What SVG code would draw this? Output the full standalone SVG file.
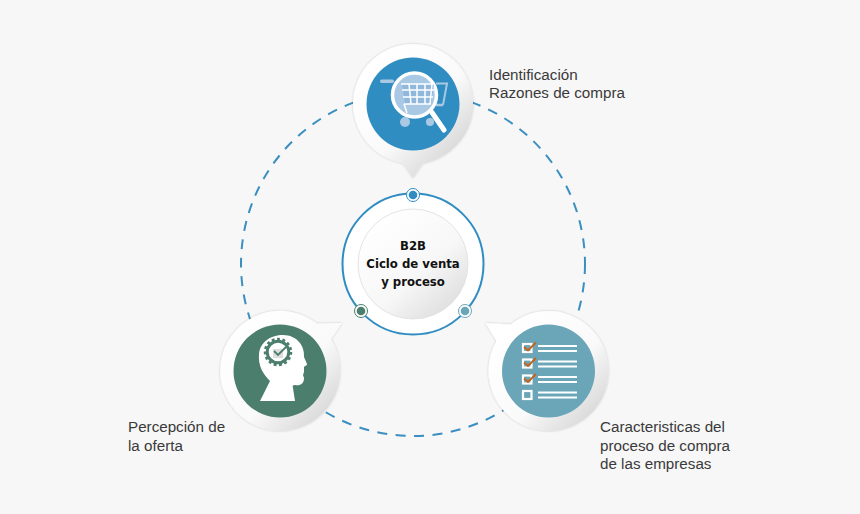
<svg xmlns="http://www.w3.org/2000/svg" width="860" height="514" viewBox="0 0 860 514">
<defs>
<linearGradient id="bub" gradientUnits="userSpaceOnUse" x1="-45" y1="-45" x2="45" y2="45"><stop offset="0" stop-color="#ffffff"/><stop offset="0.6" stop-color="#fafafa"/><stop offset="1" stop-color="#d9d9d9"/></linearGradient>
<linearGradient id="disc" x1="0.15" y1="0.1" x2="0.85" y2="0.9"><stop offset="0" stop-color="#ffffff"/><stop offset="0.6" stop-color="#f7f7f7"/><stop offset="1" stop-color="#dfdfdf"/></linearGradient>
<filter id="sh" x="-20%" y="-20%" width="140%" height="140%"><feDropShadow dx="0" dy="0" stdDeviation="1" flood-color="#000" flood-opacity="0.22"/></filter>
</defs>
<style>
.lbl{font-family:"Liberation Sans",Arial,sans-serif;font-size:15.2px;fill:#3a3a3a}
.ctr{font-family:"DejaVu Sans Condensed","DejaVu Sans",sans-serif;font-stretch:condensed;font-size:13px;font-weight:700;fill:#111;text-anchor:middle}
.bub{fill:url(#bub);filter:url(#sh)}
.w{fill:none;stroke:#fff;stroke-width:2.2}
</style>
<rect width="860" height="514" fill="#f7f7f7"/>
<g id="connectors">
<circle cx="413" cy="264" r="172" fill="none" stroke="#3a8fc0" stroke-width="2" stroke-dasharray="10 8.5"/>
</g>
<g id="node-center">
<circle cx="413" cy="264" r="70.5" fill="#fff" stroke="#2f8dc1" stroke-width="2"/>
<circle cx="413" cy="264" r="55" fill="url(#disc)" stroke="#e4e4e4" stroke-width="1"/>
<text class="ctr" x="413" y="250">B2B</text>
<text class="ctr" x="413" y="268">Ciclo de venta</text>
<text class="ctr" x="413" y="286">y proceso</text>
<circle cx="413" cy="195" r="6.5" fill="#fff" stroke="#2f8dc1"/><circle cx="413" cy="195" r="4.3" fill="#2f8dc1"/>
<circle cx="361" cy="311" r="6.5" fill="#fff" stroke="#4b7e6c"/><circle cx="361" cy="311" r="4.3" fill="#4b7e6c"/>
<circle cx="465" cy="311" r="6.5" fill="#fff" stroke="#6aa6b8"/><circle cx="465" cy="311" r="4.3" fill="#6aa6b8"/>
</g>
<g id="node-top">
<path class="bub" transform="translate(413 104)" d="M-10 59.2A60 60 0 1 1 10 59.2L0 74Z"/>
<circle cx="413" cy="104" r="46.5" fill="#2f8dc1"/>
<rect x="380" y="79.500" width="14" height="3.500" rx="1.700" fill="#a9c8e4"/>
<path d="M436 83.500H447L443 105" stroke="#a9c8e4" stroke-width="2" fill="none"/>
<path d="M436 105H443" stroke="#a9c8e4" stroke-width="2.500"/>
<circle cx="405" cy="122" r="5" fill="#a9c8e4"/><circle cx="430" cy="122" r="4" fill="#a9c8e4"/>
<circle cx="414.500" cy="95" r="22" fill="#a9c8e4" stroke="#fff" stroke-width="3.500"/>
<path d="M402 84H434L431 104H405Z" fill="#8fb8dc"/>
<path d="M401 84H435M402 90H434M403 97H433M404 104H431M409 84L411 104M417 84V104M425 84V104M432 84L430 104M404 104L407 113" stroke="#fff" stroke-width="1.500" fill="none"/>
<path d="M432 112.500L444 130" stroke="#fff" stroke-width="5" stroke-linecap="round"/>
</g>
<g id="node-left">
<path class="bub" transform="translate(280 371)" d="M37 -47.500L62 -48L51 -32A60 60 0 1 1 37 -47.500Z"/>
<circle cx="280" cy="371" r="46.5" fill="#4b7e6c"/>
<path d="M260 401L270 381C263 374 258 366 259 354C260 342 271 335 283 335C297 335 305 346 304 357L307 364C307 366 304 366 304 367L304 372L303 375L304 378C304 384 300 386 295 385C293 385 292 386 293 388L295 401Z" fill="#fff"/>
<circle cx="278" cy="352" r="10.800" fill="none" stroke="#4b7e6c" stroke-width="3"/>
<circle cx="278" cy="352" r="13" fill="none" stroke="#4b7e6c" stroke-width="2.500" stroke-dasharray="2.900 2.546"/>
<rect x="273" y="349" width="10" height="9" fill="#dedede"/>
<path d="M274 351L278 355L286 347" stroke="#4b7e6c" stroke-width="1.800" fill="none"/>
</g>
<g id="node-right">
<path class="bub" transform="translate(548.500 371)" d="M-38 -46.500L-63 -48L-52 -30A60 60 0 1 0 -38 -46.500Z"/>
<circle cx="548.500" cy="371" r="46.5" fill="#6aa6b8"/>
<g id="checks">
<rect x="523" y="344" width="8.500" height="8" class="w"/><rect x="523" y="359.500" width="8.500" height="8" class="w"/><rect x="523" y="375.500" width="8.500" height="8" class="w"/><rect x="523" y="391" width="8.500" height="8" class="w"/>
<path d="M524 347L528 350.500L536 342.500M524 362.500L528 366L536 358M524 378.500L528 382L536 374" stroke="#c4641f" stroke-width="2" fill="none"/>
<path d="M538 346H577M538 351H577M538 361.500H577M538 366.500H577M538 377H577M538 382H577M538 392.500H577M538 397.500H577" stroke="#fff" stroke-width="2" fill="none"/>
</g>
</g>
<g id="labels">
<text class="lbl" x="489" y="80">Identificación</text>
<text class="lbl" x="489" y="98">Razones de compra</text>
<text class="lbl" x="128" y="432">Percepción de</text>
<text class="lbl" x="128" y="451">la oferta</text>
<text class="lbl" x="600" y="432">Caracteristicas del</text>
<text class="lbl" x="600" y="451">proceso de compra</text>
<text class="lbl" x="600" y="469">de las empresas</text>
</g>
</svg>
